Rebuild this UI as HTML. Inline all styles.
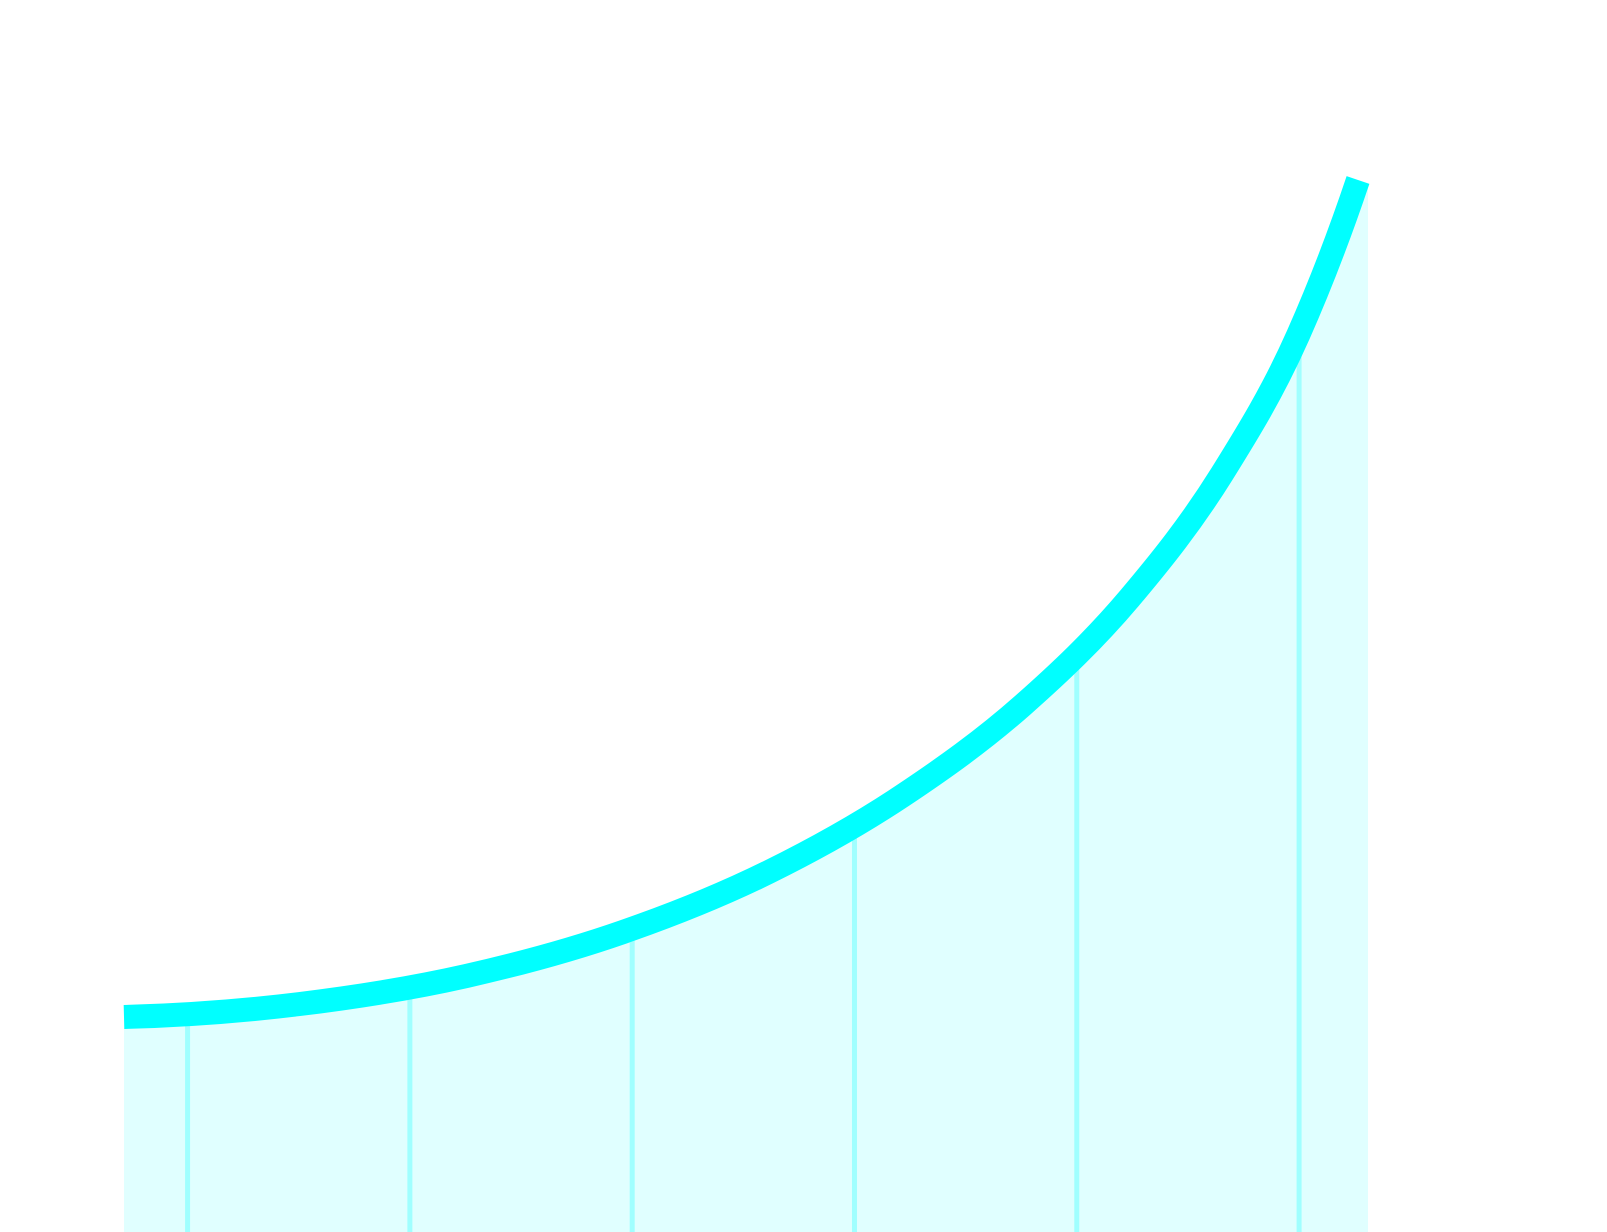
<!DOCTYPE html>
<html><head><meta charset="utf-8"><style>html,body{margin:0;padding:0;background:#fff}svg{display:block}</style></head>
<body>
<svg id="chart" width="1607" height="1232" viewBox="0 0 1607 1232" xmlns="http://www.w3.org/2000/svg"></svg>
<script>
const xValues = [0.714, 1.505, 2.254, 2.959, 3.614, 4.214, 4.758, 5.238, 5.653, 5.996, 6.265];
const yValues = [215, 228, 256, 300, 360, 436, 527, 634, 758, 897, 1052];
const gridTicks = [1, 2, 3, 4, 5, 6];
const NS = 'http://www.w3.org/2000/svg';
const svg = document.getElementById('chart');
const xMin = 0.714, xMax = 6.31;
const xs = v => 124 + (v - xMin) / (xMax - xMin) * (1368 - 124);
const ys = v => 1232 - v;
const n = xValues.length;
const dk = [], m = [];
for (let i = 0; i < n - 1; i++) dk.push((yValues[i + 1] - yValues[i]) / (xValues[i + 1] - xValues[i]));
m[0] = dk[0] - (dk[1] - dk[0]) / 2; m[n - 1] = dk[n - 2] + (dk[n - 2] - dk[n - 3]) / 2;
for (let i = 1; i < n - 1; i++) {
  const h0 = xValues[i] - xValues[i - 1], h1 = xValues[i + 1] - xValues[i];
  m[i] = (dk[i - 1] * h1 + dk[i] * h0) / (h0 + h1);
}
let d = 'M' + xs(xValues[0]) + ',' + ys(yValues[0]);
for (let i = 0; i < n - 1; i++) {
  const h = xValues[i + 1] - xValues[i];
  const c1x = xValues[i] + h / 3, c1y = yValues[i] + m[i] * h / 3;
  const c2x = xValues[i + 1] - h / 3, c2y = yValues[i + 1] - m[i + 1] * h / 3;
  d += ' C' + xs(c1x) + ',' + ys(c1y) + ' ' + xs(c2x) + ',' + ys(c2y) + ' ' + xs(xValues[i + 1]) + ',' + ys(yValues[i + 1]);
}
const lineD = d;
const lastY = ys(yValues[n - 1]);
const areaD = lineD + ' L' + xs(xMax) + ',' + (lastY + 3) + ' L' + xs(xMax) + ',1232 L' + xs(xMin) + ',1232 Z';
const area = document.createElementNS(NS, 'path');
area.setAttribute('d', areaD);
area.setAttribute('fill', '#e0ffff');


svg.appendChild(area);
const clip = document.createElementNS(NS, 'clipPath');
clip.setAttribute('id', 'ac');
const cp = document.createElementNS(NS, 'path');
cp.setAttribute('d', areaD);
clip.appendChild(cp);
svg.appendChild(clip);
gridTicks.forEach(t => {
  const g = document.createElementNS(NS, 'line');
  g.setAttribute('x1', xs(t)); g.setAttribute('x2', xs(t));
  g.setAttribute('y1', 0); g.setAttribute('y2', 1232);
  g.setAttribute('stroke', '#a0ffff'); g.setAttribute('stroke-width', 5);
  g.setAttribute('clip-path', 'url(#ac)');
  
  
  svg.appendChild(g);
});
const line = document.createElementNS(NS, 'path');
line.setAttribute('d', lineD);
line.setAttribute('fill', 'none');
line.setAttribute('stroke', '#00ffff');
line.setAttribute('stroke-width', 24);


svg.appendChild(line);
</script>
</body></html>
